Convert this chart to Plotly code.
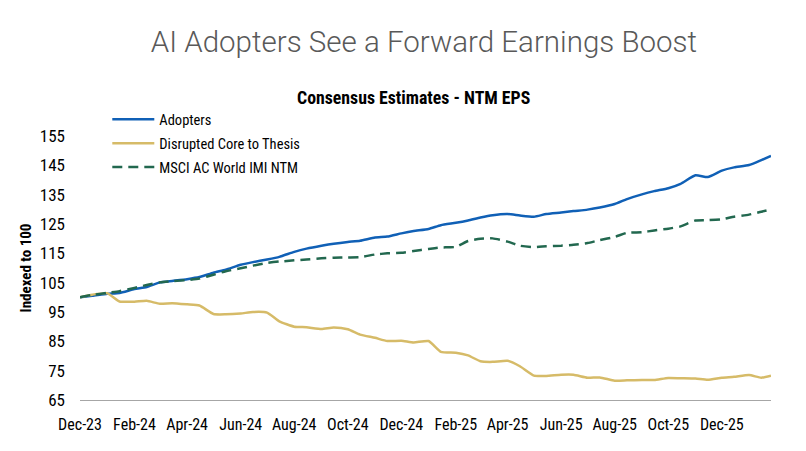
import pandas as pd
import plotly.graph_objects as go

# semi-monthly observations, Dec-23 .. late Jan-26
dates = list(pd.date_range("2023-12-01", "2026-01-15", freq="SMS")) + [pd.Timestamp("2026-01-26")]

adopters = [
    100.0, 100.5, 101.2, 101.5, 102.8, 103.5, 105.1, 105.6, 106.2, 106.9,
    108.4, 109.4, 111.1, 112.0, 112.9, 113.8, 115.5, 116.6, 117.6, 118.3,
    118.9, 119.3, 120.4, 120.7, 121.8, 122.6, 123.3, 124.6, 125.4, 126.2,
    127.2, 128.0, 128.4, 127.9, 127.5, 128.4, 128.9, 129.4, 129.9, 130.6,
    131.8, 133.5, 135.1, 136.2, 137.2, 138.7, 141.6, 141.0, 143.2, 144.3,
    145.1, 146.8, 148.2,
]
disrupted = [
    100.0, 100.9, 101.4, 98.6, 98.5, 98.8, 97.8, 98.0, 97.6, 97.2,
    94.3, 94.2, 94.5, 95.0, 94.8, 91.8, 90.0, 89.8, 89.2, 89.7,
    89.1, 87.3, 86.2, 85.1, 85.2, 84.6, 85.1, 81.4, 81.1, 80.2,
    78.2, 78.0, 78.4, 76.5, 73.3, 73.2, 73.6, 73.6, 72.6, 72.7,
    71.6, 71.7, 71.8, 71.8, 72.5, 72.4, 72.3, 71.9, 72.6, 72.9,
    73.5, 72.6, 73.3,
]
msci = [
    100.0, 100.8, 101.5, 102.1, 103.2, 104.2, 105.1, 105.5, 105.9, 106.4,
    107.7, 108.9, 109.9, 110.8, 111.7, 112.2, 112.6, 112.9, 113.3, 113.5,
    113.6, 113.7, 114.6, 115.0, 115.2, 115.8, 116.5, 117.0, 117.2, 119.2,
    120.0, 120.1, 119.0, 117.6, 117.1, 117.4, 117.6, 117.9, 118.5, 119.5,
    120.6, 122.0, 122.2, 122.8, 123.4, 124.2, 126.2, 126.3, 126.6, 127.5,
    128.2, 129.2, 129.9,
]

y_ticks = [65, 75, 85, 95, 105, 115, 125, 135, 145, 155]

cond = "Roboto Condensed, Liberation Sans Narrow, Roboto, sans-serif"

fig = go.Figure()
fig.add_trace(go.Scatter(x=dates, y=adopters, mode="lines", name="Adopters", legendgroup="a",
                         line=dict(color="#1060B6", width=2.5, shape="spline", smoothing=0.5)))
fig.add_trace(go.Scatter(x=dates, y=disrupted, mode="lines", name="Disrupted Core to Thesis",
                         legendgroup="d",
                         line=dict(color="#D6BB68", width=2.5, shape="spline", smoothing=0.5)))
fig.add_trace(go.Scatter(x=dates, y=msci, mode="lines", name="MSCI AC World IMI NTM",
                         legendgroup="m",
                         line=dict(color="#22684F", width=2.5, dash="10px,6px",
                                   shape="spline", smoothing=0.5)))

# the page body adds an 8px offset, so margins are set 8px short on the left/top
fig.update_layout(
    width=806,
    height=451,
    plot_bgcolor="white",
    paper_bgcolor="white",
    margin=dict(l=72, r=43, t=128, b=59),
    title=dict(text="AI Adopters See a Forward Earnings Boost", x=0.516, xanchor="center",
               y=0.9246, yanchor="middle", pad=dict(t=0, b=0),
               font=dict(family="Roboto", size=29.5, color="#595959", weight=300)),
    annotations=[dict(text="<b>Consensus Estimates - NTM EPS</b>", xref="paper", yref="paper",
                      x=0.4826, y=1.1477, xanchor="center", yanchor="middle", showarrow=False,
                      font=dict(family=cond, size=17.8, color="black"))],
    legend=dict(x=0.0395, y=1.1235, xanchor="left", yanchor="top", bgcolor="rgba(0,0,0,0)",
                tracegroupgap=2, itemwidth=42,
                font=dict(family=cond, size=14.5, color="black")),
    xaxis=dict(
        type="date",
        range=["2023-12-01", "2026-01-26"],
        tick0="2023-12-01",
        dtick="M2",
        tickformat="%b-%y",
        showgrid=False,
        zeroline=False,
        showline=True,
        linecolor="#A6A6A6",
        linewidth=1,
        ticks="",
        automargin=False,
        ticklabelstandoff=10,
        tickfont=dict(family=cond, size=16, color="black"),
    ),
    yaxis=dict(
        range=[65, 155],
        tickvals=y_ticks,
        showgrid=False,
        zeroline=False,
        showline=False,
        ticks="",
        automargin=False,
        ticklabelstandoff=14,
        tickfont=dict(family=cond, size=17, color="black"),
        title=dict(text="<b>Indexed to 100</b>", standoff=4,
                   font=dict(family=cond, size=15, color="black")),
    ),
)

fig.write_html("out.html")
